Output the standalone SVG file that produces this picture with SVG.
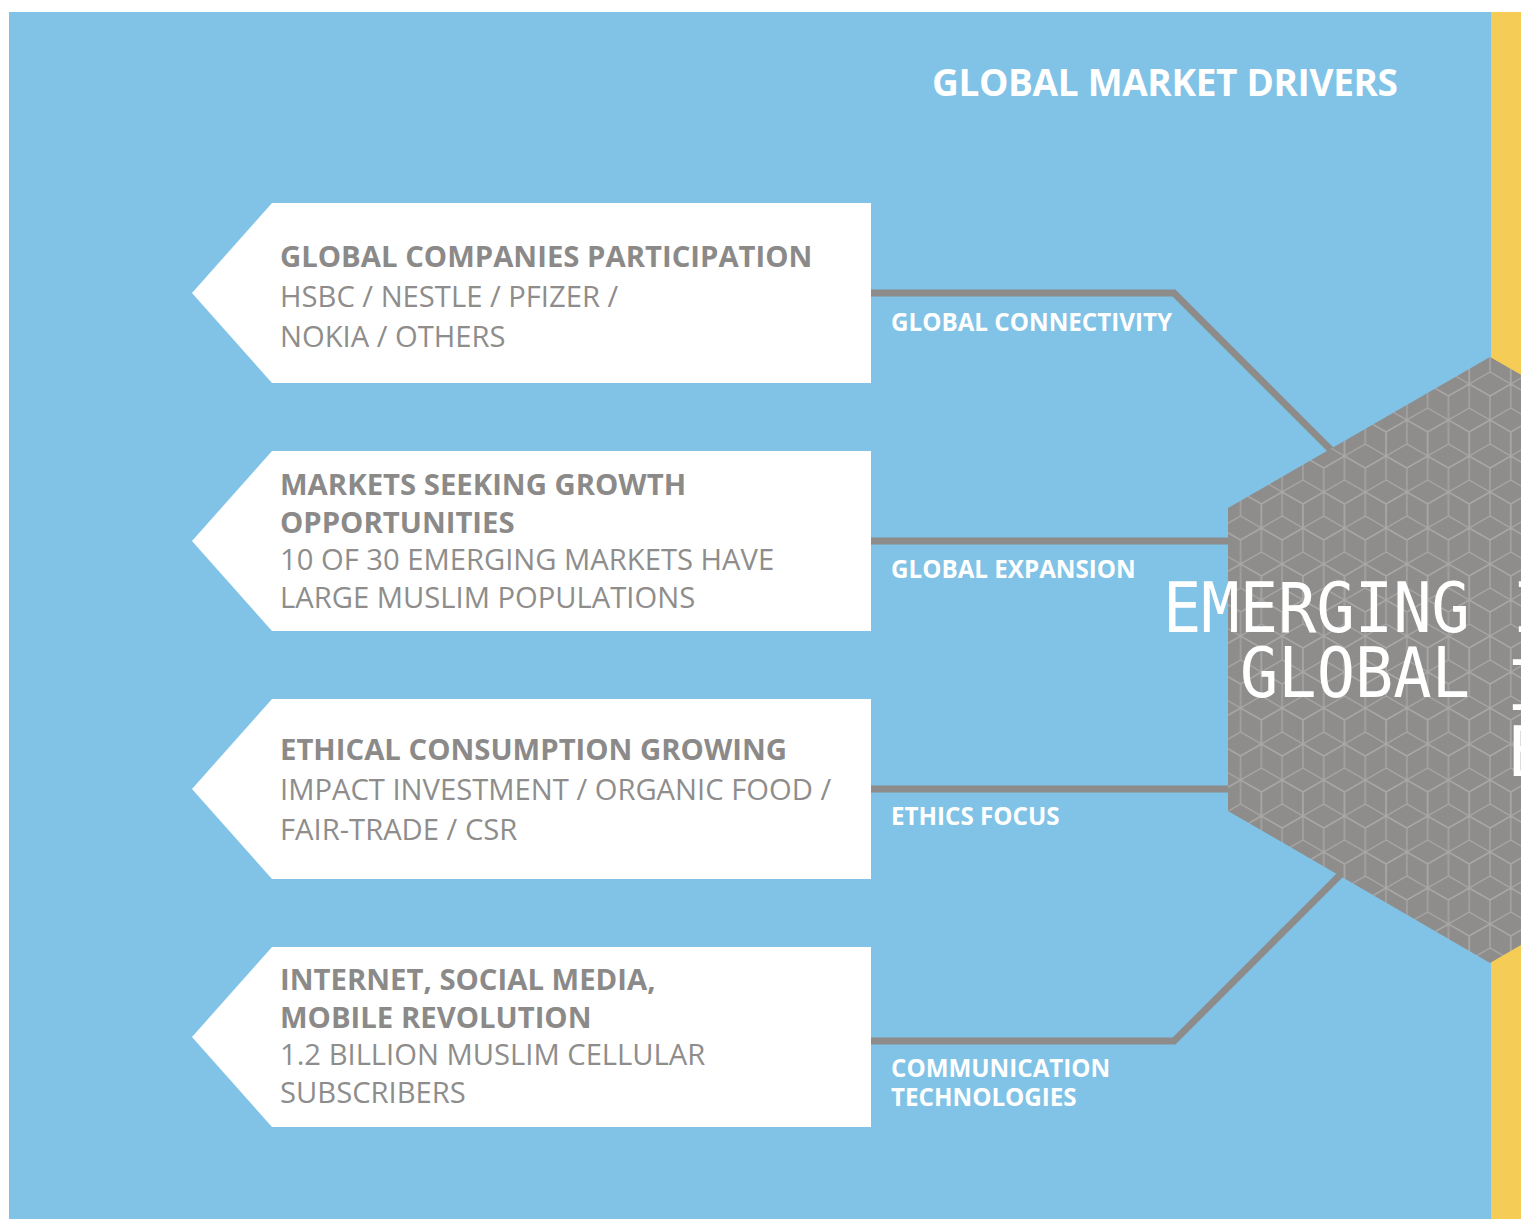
<svg xmlns="http://www.w3.org/2000/svg" width="1521" height="1219" viewBox="0 0 1521 1219">
<style>
.box{fill:#ffffff}
.hd{font-family:"Open Sans","Liberation Sans",sans-serif;font-weight:700;font-size:29.3px;fill:#8b8a89}
.bd{font-family:"Open Sans","Liberation Sans",sans-serif;font-weight:400;font-size:29.2px;fill:#8e8d8c}
.lbl{font-family:"Open Sans","Liberation Sans",sans-serif;font-weight:700;font-size:24.2px;fill:#ffffff}
.ttl{font-family:"Open Sans","Liberation Sans",sans-serif;font-weight:700;font-size:37px;fill:#ffffff}
.big{font-family:"DejaVu Sans Mono","Liberation Mono",monospace;font-size:70px;fill:#ffffff}
.conn{fill:none;stroke:#8d8c8b;stroke-width:7;stroke-linejoin:miter}
</style>
<defs>
<path id="cube" d="M0,-24 L20.78,-12 L20.78,12 L0,24 L-20.78,12 L-20.78,-12 Z M0,0 L0,-24 M0,0 L-20.78,12 M0,0 L20.78,12"/>
<pattern id="blocks" patternUnits="userSpaceOnUse" x="1490" y="660" width="41.57" height="72">
<rect width="41.57" height="72" fill="#8e8d8c"/>
<g fill="none" stroke="#a9a8a7" stroke-width="1.3">
<use href="#cube" x="0" y="0"/>
<use href="#cube" x="41.57" y="0"/>
<use href="#cube" x="20.78" y="36"/>
<use href="#cube" x="0" y="72"/>
<use href="#cube" x="41.57" y="72"/>
</g>
</pattern>
</defs>
<rect x="0" y="0" width="1521" height="1219" fill="#ffffff"/>
<rect x="9" y="12" width="1482" height="1207" fill="#80c3e6"/>
<rect x="1491" y="12" width="30" height="1207" fill="#f5cc56"/>
<text class="ttl" x="932" y="96" textLength="466">GLOBAL MARKET DRIVERS</text>

<g id="connectors">
<path class="conn" d="M871,293 H1174 L1345,464"/>
<path class="conn" d="M871,541 H1240"/>
<path class="conn" d="M871,789 H1240"/>
<path class="conn" d="M871,1041 H1174 L1346,869"/>
</g>

<g id="connector-labels">
<text class="lbl" x="891" y="331">GLOBAL CONNECTIVITY</text>
<text class="lbl" x="891" y="578">GLOBAL EXPANSION</text>
<text class="lbl" x="891" y="825">ETHICS FOCUS</text>
<text class="lbl" x="891" y="1077">COMMUNICATION</text>
<text class="lbl" x="891" y="1106">TECHNOLOGIES</text>
</g>

<g id="node-companies">
<polygon class="box" points="192,293 272,203 871,203 871,383 272,383"/>
<text class="hd" x="280" y="267">GLOBAL COMPANIES PARTICIPATION</text>
<text class="bd" x="280" y="307">HSBC / NESTLE / PFIZER /</text>
<text class="bd" x="280" y="347">NOKIA / OTHERS</text>
</g>

<g id="node-markets">
<polygon class="box" points="192,541 272,451 871,451 871,631 272,631"/>
<text class="hd" x="280" y="495">MARKETS SEEKING GROWTH</text>
<text class="hd" x="280" y="533">OPPORTUNITIES</text>
<text class="bd" x="280" y="570">10 OF 30 EMERGING MARKETS HAVE</text>
<text class="bd" x="280" y="608">LARGE MUSLIM POPULATIONS</text>
</g>

<g id="node-ethical">
<polygon class="box" points="192,789 272,699 871,699 871,879 272,879"/>
<text class="hd" x="280" y="760">ETHICAL CONSUMPTION GROWING</text>
<text class="bd" x="280" y="800">IMPACT INVESTMENT / ORGANIC FOOD /</text>
<text class="bd" x="280" y="840">FAIR-TRADE / CSR</text>
</g>

<g id="node-internet">
<polygon class="box" points="192,1037 272,947 871,947 871,1127 272,1127"/>
<text class="hd" x="280" y="990">INTERNET, SOCIAL MEDIA,</text>
<text class="hd" x="280" y="1028">MOBILE REVOLUTION</text>
<text class="bd" x="280" y="1065">1.2 BILLION MUSLIM CELLULAR</text>
<text class="bd" x="280" y="1103">SUBSCRIBERS</text>
</g>

<g id="node-hexagon">
<polygon points="1490,357 1752,508 1752,811 1490,963 1228,811 1228,508" fill="url(#blocks)"/>
<text class="big" x="1163" y="632" textLength="307" lengthAdjust="spacingAndGlyphs">EMERGING</text>
<text class="big" x="1240" y="697" textLength="230" lengthAdjust="spacingAndGlyphs">GLOBAL</text>
<text class="big" x="1512" y="632">I</text>
<text class="big" x="1506" y="710">I</text>
<text class="big" x="1507" y="776">E</text>
</g>
</svg>
